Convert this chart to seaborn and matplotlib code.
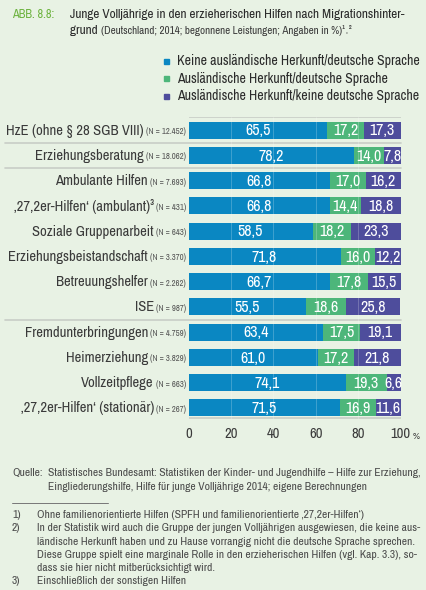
import pandas as pd
import matplotlib
matplotlib.use("Agg")
import matplotlib.pyplot as plt
import matplotlib.font_manager as fm
import seaborn as sns

# Daten
kategorien = ["HzE (ohne § 28 SGB VIII)", "Erziehungsberatung", "Ambulante Hilfen",
              "‚27,2er-Hilfen‘ (ambulant)³", "Soziale Gruppenarbeit",
              "Erziehungsbeistandschaft", "Betreuungshelfer", "ISE",
              "Fremdunterbringungen", "Heimerziehung", "Vollzeitpflege",
              "‚27,2er-Hilfen‘ (stationär)"]
n_werte = ["(N = 12.452)", "(N = 18.062)", "(N = 7.693)", "(N = 431)", "(N = 643)",
           "(N = 3.370)", "(N = 2.262)", "(N = 987)", "(N = 4.759)", "(N = 3.829)",
           "(N = 663)", "(N = 267)"]
keine_dt = [65.5, 78.2, 66.8, 66.8, 58.5, 71.8, 66.7, 55.5, 63.4, 61.0, 74.1, 71.5]
ausl_dt = [17.2, 14.0, 17.0, 14.4, 18.2, 16.0, 17.8, 18.6, 17.5, 17.2, 19.3, 16.9]
ausl_kein_dt = [17.3, 7.8, 16.2, 18.8, 23.3, 12.2, 15.5, 25.8, 19.1, 21.8, 6.6, 11.6]
legende = ["Keine ausländische Herkunft/deutsche Sprache",
           "Ausländische Herkunft/deutsche Sprache",
           "Ausländische Herkunft/keine deutsche Sprache"]
ticks = [0, 20, 40, 60, 80, 100]

farben = ["#0a87c2", "#4db67a", "#4e4d9c"]
bg = "#e8f2e4"
grau = "#3a3a3a"

# schmale Schrift suchen, sonst Liberation Sans
schmal = []
stretch = "normal"
for f in fm.fontManager.ttflist:
    if "Narrow" in f.name or "Condensed" in f.name:
        schmal.append(f.name)
    elif f.stretch in ("condensed", "semi-condensed", 600, 700) and f.name == "DejaVu Sans":
        stretch = "condensed"
schmal = sorted(set(schmal))

sns.set_style("white")
plt.rcParams['font.family'] = schmal[:1] + ['Liberation Sans', 'DejaVu Sans']
plt.rcParams['font.stretch'] = stretch

df = pd.DataFrame({"kat": kategorien, "a": keine_dt, "b": ausl_dt, "c": ausl_kein_dt})
df["ab"] = df["a"] + df["b"]
df["abc"] = df["ab"] + df["c"]

fig = plt.figure(figsize=(4.26, 5.90), dpi=100, facecolor=bg)
renderer = fig.canvas.get_renderer()


def breite(t):
    return t.get_window_extent(renderer).width


def passend(t, ziel, max_size=None):
    # Schriftgröße so setzen, dass die Breite ziel Pixel ergibt
    s = t.get_fontsize()
    w = breite(t)
    neu = s * ziel / w
    if max_size is not None:
        neu = min(neu, max_size)
    t.set_fontsize(neu)
    return neu


ax = fig.add_axes([188.5 / 426, 1 - 418.5 / 590, 212 / 426, 301.5 / 590])
ax.set_facecolor(bg)

# gestapelt: Gesamtsumme zuerst, dann darüber die kleineren Summen
for spalte, farbe in zip(["abc", "ab", "a"], farben[::-1]):
    sns.barplot(data=df, x=spalte, y="kat", color=farbe, orient="h", width=0.67,
                saturation=1, ax=ax, linewidth=0)

ax.set_xlim(0, 100)
ax.set_ylim(11.42, -0.52)
ax.set_xlabel("")
ax.set_ylabel("")
ax.set_yticks([])
ax.set_xticks(ticks)
ax.set_xticklabels([str(t) for t in ticks], fontsize=10.5, color=grau)
ax.tick_params(axis="x", length=0, pad=6)
for s in ax.spines.values():
    s.set_visible(False)

# feine Gitterlinien
for t in ticks[1:-1]:
    ax.axvline(t, color="white", lw=0.6, alpha=0.25, zorder=5)
ax.axhline(-0.52, color="#c8cdc6", lw=1.2)
ax.axhline(11.42, color="#c8cdc6", lw=1.2)

# Werte in den Balken
probe = ax.text(0, 0, "14,0", fontsize=10)
wert_size = passend(probe, 28, max_size=11.5)
probe.remove()
for i in range(len(kategorien)):
    starts = [0, keine_dt[i], keine_dt[i] + ausl_dt[i]]
    werte = [keine_dt[i], ausl_dt[i], ausl_kein_dt[i]]
    for s0, w in zip(starts, werte):
        ax.text(s0 + w / 2, i + 0.03, f"{w:.1f}".replace(".", ","), ha="center",
                va="center", color="white", fontsize=wert_size, zorder=6)

ax.text(1.058, -0.045, "%", transform=ax.transAxes, ha="left", va="top",
        fontsize=7, color=grau)

# Kategorienamen mit N
probe_k = fig.text(0, 0, "Erziehungsbeistandschaft", fontsize=10)
probe_n = fig.text(0, 0, "(N = 3.370)", fontsize=6)
gesamt = breite(probe_k) + breite(probe_n) + 2
faktor = min(1.1, 178 / gesamt)
k_size = 10 * faktor
n_size = 6 * faktor
probe_k.remove()
probe_n.remove()
for i, (k, n) in enumerate(zip(kategorien, n_werte)):
    tn = ax.text(-0.012, i + 0.06, n, transform=ax.get_yaxis_transform(), ha="right",
                 va="center", fontsize=n_size, color="#555555")
    bb = tn.get_window_extent(renderer)
    x_links = ax.transAxes.inverted().transform((bb.x0 - 2, 0))[0]
    ax.text(x_links, i + 0.02, k, transform=ax.get_yaxis_transform(), ha="right",
            va="center", fontsize=k_size, color=grau)

# Trennlinien
for y in [0.5, 1.5, 7.5]:
    ax.plot([-0.865, 1.0], [y, y], transform=ax.get_yaxis_transform(),
            color="#c8cdc6", lw=1.2, clip_on=False)

# Titel
ta = fig.text(12 / 426, 1 - 15 / 590, "ABB. 8.8:", color="#6db33f", fontsize=8.3,
              va="center")
passend(ta, 43, max_size=10)
tz = fig.text(70 / 426, 1 - 15 / 590,
              "Junge Volljährige in den erzieherischen Hilfen nach Migrationshinter-",
              color="#2a2a2a", fontsize=8.6, va="center")
t_size = passend(tz, 348, max_size=9.5)
t1 = fig.text(70 / 426, 1 - 31 / 590, "grund ", color="#2a2a2a", fontsize=t_size, va="center")
bb = t1.get_window_extent(renderer)
t2 = fig.text(bb.x1 / fig.bbox.width, 1 - 31 / 590,
              "(Deutschland; 2014; begonnene Leistungen; Angaben in %)¹˒²",
              color="#3a3a3a", fontsize=t_size * 0.88, va="center")
passend(t2, 353 - bb.x1, max_size=t_size)

# Legende
lt = fig.text(0, 0, legende[0], fontsize=9)
l_size = passend(lt, 418 - 177, max_size=10.5)
lt.remove()
for j, (lab, farbe) in enumerate(zip(legende, farben)):
    y = 1 - (61 + j * 17.5) / 590
    fig.patches.append(plt.Rectangle((164 / 426, y - 2.5 / 590), 5 / 426, 5 / 590,
                                     transform=fig.transFigure, color=farbe, figure=fig))
    fig.text(177 / 426, y, lab, color="#2a2a2a", fontsize=l_size, va="center")

# Quelle und Fußnoten
fuss = "#4a4a4a"
q1 = fig.text(48 / 426, 1 - 473 / 590,
              "Statistisches Bundesamt: Statistiken der Kinder- und Jugendhilfe – Hilfe zur Erziehung,",
              color=fuss, fontsize=7.4, va="center")
q_size = passend(q1, 418 - 48, max_size=8.5)
fig.text(12 / 426, 1 - 473 / 590, "Quelle:", color=fuss, fontsize=q_size, va="center")
fig.text(48 / 426, 1 - 487 / 590,
         "Eingliederungshilfe, Hilfe für junge Volljährige 2014; eigene Berechnungen",
         color=fuss, fontsize=q_size, va="center")
fig.lines.append(plt.Line2D([12 / 426, 108 / 426], [1 - 503 / 590, 1 - 503 / 590],
                            transform=fig.transFigure, color="#777777", lw=0.7))

fussnoten = [
    ("1)", "Ohne familienorientierte Hilfen (SPFH und familienorientierte ‚27,2er-Hilfen‘)"),
    ("2)", "In der Statistik wird auch die Gruppe der jungen Volljährigen ausgewiesen, die keine aus-"),
    ("", "ländische Herkunft haben und zu Hause vorrangig nicht die deutsche Sprache sprechen."),
    ("", "Diese Gruppe spielt eine marginale Rolle in den erzieherischen Hilfen (vgl. Kap. 3.3), so-"),
    ("", "dass sie hier nicht mitberücksichtigt wird."),
    ("3)", "Einschließlich der sonstigen Hilfen"),
]
pf = fig.text(0, 0, fussnoten[1][1], fontsize=7.2)
f_size = passend(pf, 418 - 37, max_size=8.5)
pf.remove()
for j, (nr, txt) in enumerate(fussnoten):
    y = 1 - (515 + j * 13.3) / 590
    if nr:
        fig.text(12 / 426, y, nr, color=fuss, fontsize=f_size, va="center")
    fig.text(37 / 426, y, txt, color=fuss, fontsize=f_size, va="center")

fig.savefig("out.png", dpi=100, facecolor=bg)
